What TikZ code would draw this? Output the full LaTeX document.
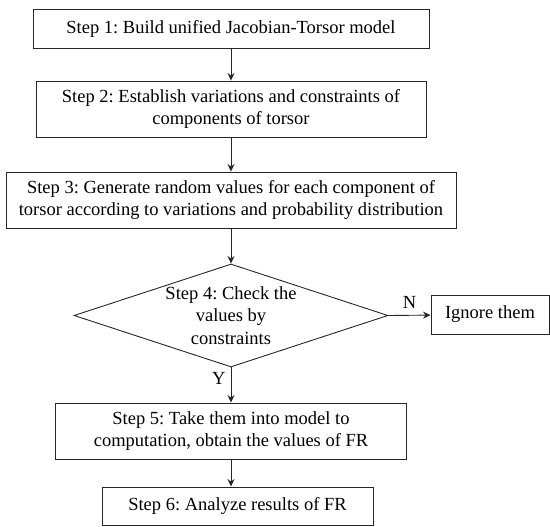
\documentclass[tikz,border=0pt]{standalone}
\usepackage{fontspec}
\setmainfont{Liberation Serif}
\usetikzlibrary{shapes.geometric}
\usetikzlibrary{arrows.meta}
\frenchspacing
\tikzstyle{stepText} = [align=center, inner sep=0pt,
   font=\fontsize{18.5}{22.5}\selectfont]
\tikzstyle{stepBox} = [stepText, draw=black!85, line width=0.9pt]
\tikzstyle{checkBox} = [diamond, draw=black!85, line width=0.9pt,
   inner sep=0pt, minimum width=314pt, minimum height=103pt]
\tikzstyle{flowArrow} = [draw=black!85, line width=0.9pt,
   -{Stealth[length=7.5pt,width=7pt]}]

\begin{document}
\begin{tikzpicture}[x=1pt,y=-1pt] % pixel grid, y down
  \useasboundingbox (0,0) rectangle (550,527);
  \node[stepBox, minimum width=396pt, minimum height=39pt] (s1) at (231,28.5)
     {Step 1: Build unified Jacobian-Torsor model};
  \node[stepBox, minimum width=390pt, minimum height=56pt] (s2) at (231,109)
     {Step 2: Establish variations and constraints of\\ components of torsor};
  \node[stepBox, minimum width=450pt, minimum height=56pt] (s3) at (231,200)
     {Step 3: Generate random values for each component of\\ torsor according to variations and probability distribution};
  \node[checkBox] (s4) at (231,315.5) {};
  \node[stepText] (s4text) at (s4) {Step 4: Check the\\ values by\\ constraints};
  \node[stepBox, minimum width=118pt, minimum height=39pt] (ign) at (490,314.5)
     {Ignore them};
  \node[stepBox, minimum width=351pt, minimum height=56pt] (s5) at (231,431)
     {Step 5: Take them into model to\\ computation, obtain the values of FR};
  \node[stepBox, minimum width=271pt, minimum height=38pt] (s6) at (237.5,506)
     {Step 6: Analyze results of FR};
  \draw [flowArrow] (s1) -- (s2);
  \draw [flowArrow] (s2) -- (s3);
  \draw [flowArrow] (s3) -- (s4);
  \draw [flowArrow] (s4.east) -- node[stepText, above=6pt] {N} (ign);
  \draw [flowArrow] (s4.south) -- node[stepText, pos=0.3, left=5pt] {Y} (s5);
  \draw [flowArrow] (s5.south) -- (s5.south |- s6.north);
\end{tikzpicture}
\end{document}
